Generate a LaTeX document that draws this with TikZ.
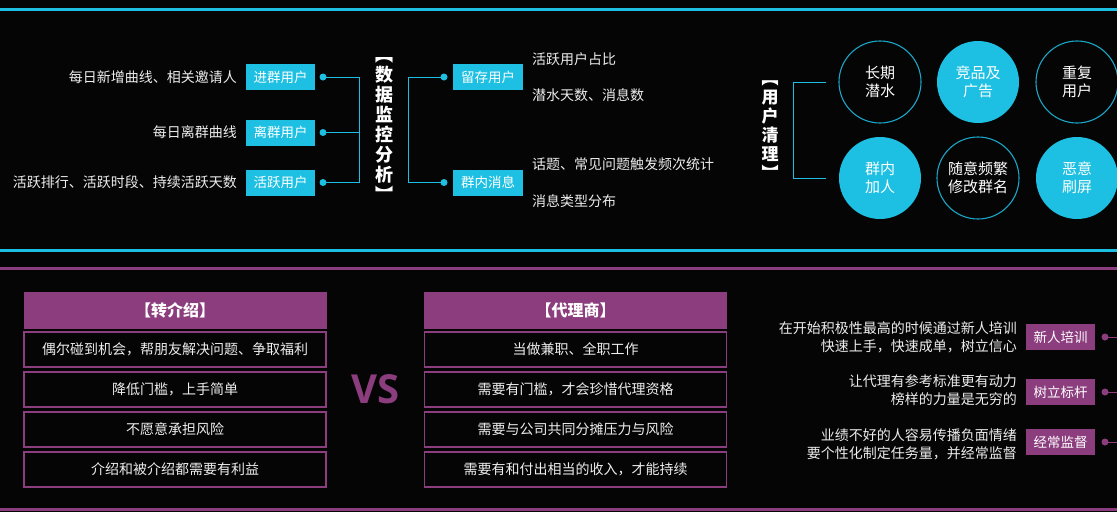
\documentclass[tikz,border=0pt]{standalone}
\usepackage{fontspec}
\setmainfont{Noto Sans CJK SC}
\newfontfamily\vsfont{Open Sans}
\definecolor{bgc}{HTML}{050505}
\definecolor{cyanc}{HTML}{1DC0E2}
\definecolor{ringc}{HTML}{1AA6C6}
\definecolor{purc}{HTML}{8B3D7E}
\definecolor{txtc}{HTML}{EDEDED}
\tikzset{
  txt/.style={text=txtc, font=\fontsize{14}{18}\selectfont, inner sep=0pt},
  cbox/.style={fill=cyanc, text=white, minimum width=69pt, minimum height=26pt, inner sep=0pt, font=\fontsize{13.5}{16}\selectfont},
  pbox/.style={fill=purc, text=white, minimum width=69pt, minimum height=26pt, inner sep=0pt, font=\fontsize{13.5}{16}\selectfont},
  cdot/.style={circle, fill=cyanc, minimum size=7pt, inner sep=0pt},
  pdot/.style={circle, fill=purc, minimum size=7pt, inner sep=0pt},
  cline/.style={draw=cyanc, line width=1pt},
  pline/.style={draw=purc, line width=1pt},
  ring/.style={circle, draw=ringc, line width=1.1pt, minimum size=82pt, inner sep=0pt, text=white, align=center, font=\fontsize{15}{18}\selectfont},
  disk/.style={circle, fill=cyanc, minimum size=82pt, inner sep=0pt, text=white, align=center, font=\fontsize{15}{18}\selectfont},
  vtitle/.style={text=white, align=center, inner sep=0pt, font=\bfseries\fontsize{18}{20}\selectfont},
  head/.style={fill=purc, draw=purc, minimum width=302pt, minimum height=36pt, inner sep=0pt, text=white, font=\bfseries\fontsize{16}{18}\selectfont},
  row/.style={draw=purc, line width=1.1pt, minimum width=302pt, minimum height=35pt, inner sep=0pt, text=txtc, font=\fontsize{14}{16}\selectfont},
}
\begin{document}
\begin{tikzpicture}[x=1pt, y=-1pt]
\fill[bgc] (0,0) rectangle (1117,512);
\useasboundingbox (0,0) rectangle (1117,512);
% separator lines
\coordinate (l1a) at (0,9.5); \coordinate (l1b) at (1117,9.5);
\coordinate (l2a) at (0,250.5); \coordinate (l2b) at (1117,250.5);
\coordinate (l3a) at (0,268.5); \coordinate (l3b) at (1117,268.5);
\coordinate (l4a) at (0,509.5); \coordinate (l4b) at (1117,509.5);
\draw[cyanc, line width=2.5pt] (l1a) -- (l1b);
\draw[cyanc, line width=2.5pt] (l2a) -- (l2b);
\draw[purc, line width=2.5pt] (l3a) -- (l3b);
\draw[purc, line width=2.5pt] (l4a) -- (l4b);

% ---------- top left ----------
\node[txt, anchor=east] (t1) at (237,77) {每日新增曲线、相关邀请人};
\node[txt, anchor=east] (t2) at (237,132.5) {每日离群曲线};
\node[txt, anchor=east] (t3) at (237,182.5) {活跃排行、活跃时段、持续活跃天数};
\node[cbox] (b1) at (280.5,77) {进群用户};
\node[cbox] (b2) at (280.5,132.5) {离群用户};
\node[cbox] (b3) at (280.5,182.5) {活跃用户};
\node[cdot] (d1) at (323,77) {};
\node[cdot] (d2) at (323,132.5) {};
\node[cdot] (d3) at (323,182.5) {};
\coordinate (j1) at (359,77);
\coordinate (j2) at (359,132.5);
\coordinate (j3) at (359,182.5);
\draw[cline] (d1.center) -- (j1) -- (j3) -- (d3.center);
\draw[cline] (d2.center) -- (j2);
\node[vtitle] (title1) at (384,129) {︻\\数\\据\\监\\控\\分\\析\\︼};

\coordinate (k1) at (408,77);
\coordinate (k2) at (408,182.5);
\node[cdot] (e1) at (444,77) {};
\node[cdot] (e2) at (444,182.5) {};
\draw[cline] (e1.center) -- (k1) -- (k2) -- (e2.center);
\node[cbox, minimum width=70pt] (c1) at (488,77) {留存用户};
\node[cbox, minimum width=70pt] (c2) at (488,182.5) {群内消息};
\node[txt, anchor=west] (u1) at (532,59) {活跃用户占比};
\node[txt, anchor=west] (u2) at (532,95) {潜水天数、消息数};
\node[txt, anchor=west] (u3) at (532,164) {话题、常见问题触发频次统计};
\node[txt, anchor=west] (u4) at (532,201) {消息类型分布};

% ---------- user cleanup ----------
\node[vtitle, font=\bfseries\fontsize{17}{19}\selectfont] (title2) at (770,130) {︻\\用\\户\\清\\理\\︼};
\coordinate (m1) at (826,82);
\coordinate (m2) at (793,82);
\coordinate (m3) at (793,178);
\coordinate (m4) at (826,178);
\draw[cline] (m1) -- (m2) -- (m3) -- (m4);
\node[ring] (r1) at (880,82) {长期\\潜水};
\node[disk] (r2) at (978,82) {竞品及\\广告};
\node[ring] (r3) at (1077,82) {重复\\用户};
\node[disk] (r4) at (880,178) {群内\\加人};
\node[ring] (r5) at (978,178) {随意频繁\\修改群名};
\node[disk] (r6) at (1077,178) {恶意\\刷屏};

% ---------- bottom comparison ----------
\node[head] (h1) at (175,310) {【转介绍】};
\node[row] (a1) at (175,349.5) {偶尔碰到机会，帮朋友解决问题、争取福利};
\node[row] (a2) at (175,389.5) {降低门槛，上手简单};
\node[row] (a3) at (175,429.5) {不愿意承担风险};
\node[row] (a4) at (175,469.5) {介绍和被介绍都需要有利益};
\node[text=purc, inner sep=0pt, font=\vsfont\bfseries\fontsize{40}{40}\selectfont] (vs) at (375.5,389) {VS};
\node[head] (h2) at (575.5,310) {【代理商】};
\node[row] (p1) at (575.5,349.5) {当做兼职、全职工作};
\node[row] (p2) at (575.5,389.5) {需要有门槛，才会珍惜代理资格};
\node[row] (p3) at (575.5,429.5) {需要与公司共同分摊压力与风险};
\node[row] (p4) at (575.5,469.5) {需要有和付出相当的收入，才能持续};

% ---------- right side ----------
\node[txt, anchor=east, align=right, font=\fontsize{14}{18}\selectfont] (n1) at (1017,337) {在开始积极性最高的时候通过新人培训\\快速上手，快速成单，树立信心};
\node[txt, anchor=east, align=right, font=\fontsize{14}{18}\selectfont] (n2) at (1017,390.5) {让代理有参考标准更有动力\\榜样的力量是无穷的};
\node[txt, anchor=east, align=right, font=\fontsize{14}{18}\selectfont] (n3) at (1017,444) {业绩不好的人容易传播负面情绪\\要个性化制定任务量，并经常监督};
\node[pbox] (q1) at (1060.5,337) {新人培训};
\node[pbox] (q2) at (1060.5,392) {树立标杆};
\node[pbox] (q3) at (1060.5,442) {经常监督};
\node[pdot] (g1) at (1105,337) {};
\node[pdot] (g2) at (1105,392) {};
\node[pdot] (g3) at (1105,442) {};
\coordinate (z1) at (1117,337);
\coordinate (z2) at (1117,392);
\coordinate (z3) at (1117,442);
\draw[pline] (g1.center) -- (z1);
\draw[pline] (g2.center) -- (z2);
\draw[pline] (g3.center) -- (z3);
\end{tikzpicture}
\end{document}
